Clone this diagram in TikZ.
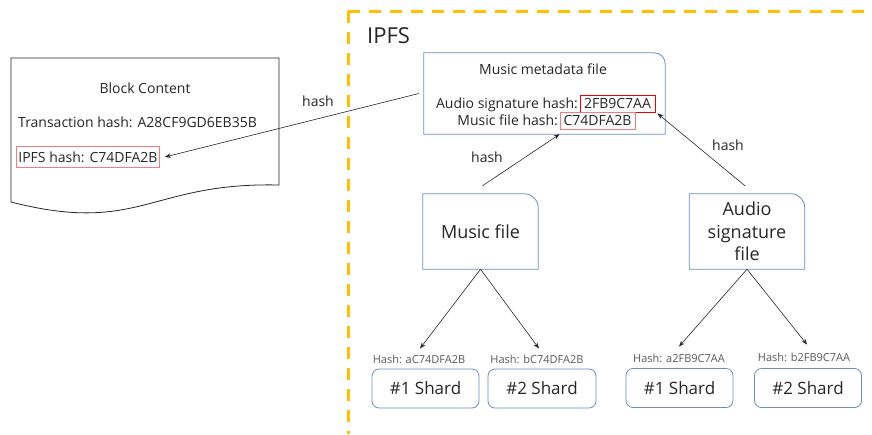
\documentclass[tikz,border=0pt]{standalone}
\usepackage{fontspec}
\setmainfont{Open Sans}
\usetikzlibrary{arrows.meta}
\definecolor{txt}{HTML}{262626}
\definecolor{boxblue}{HTML}{6D8EB8}
\definecolor{ipfsorange}{HTML}{FFC000}
\definecolor{hred}{HTML}{F00000}
\definecolor{pinkred}{HTML}{F47C7C}
\begin{document}
\begin{tikzpicture}[x=1pt,y=-1pt,
  lbl/.style={text=txt, inner sep=0pt},
  f14/.style={font=\fontsize{14}{17}\selectfont},
  big/.style={font=\fontsize{18}{22.5}\selectfont},
  arr/.style={draw=black!85, line width=0.6pt, -{Stealth[length=6pt,width=4.5pt]}},
  boxline/.style={draw=boxblue, line width=0.8pt},
  shard/.style={draw=boxblue, line width=0.8pt, rounded corners=7pt, minimum width=107pt, minimum height=39pt, font=\fontsize{17}{20}\selectfont, text=txt},
  hashlbl/.style={font=\fontsize{11}{13}\selectfont, text=black!65, inner sep=0pt},
  redbox/.style={draw=hred, line width=0.8pt, inner sep=1pt, minimum height=17pt, minimum width=75pt, text=txt},
  filebox/.style={minimum width=115pt, minimum height=75pt, inner sep=0pt},
]
\useasboundingbox (0,0) rectangle (872,434);

% IPFS frame
\draw[ipfsorange, line width=3pt, dash pattern=on 12pt off 9pt] (348,11) -- (872,11);
\draw[ipfsorange, line width=3pt, dash pattern=on 12pt off 9pt] (348,11) -- (348,434);
\node[lbl, font=\fontsize{22}{26}\selectfont, anchor=west] (ipfs) at (367,36) {IPFS};

% Block content document
\draw[black!85, line width=0.8pt] (11,58) -- (279,58) -- (279,185) .. controls (150,182) and (140,235) .. (11,202) -- cycle;
\node[lbl,f14] (bc) at (145,88) {Block Content};
\node[lbl,f14,anchor=west] (th) at (18,122) {Transaction hash: A28CF9GD6EB35B};
\node[f14, draw=pinkred, line width=0.8pt, text=txt, inner xsep=2pt, inner ysep=0pt, minimum height=21pt, anchor=west] (ih) at (16,157) {IPFS hash: C74DFA2B};

% Music metadata file
\node[minimum width=241pt, minimum height=81pt, inner sep=0pt] (meta) at (544.5,93.5) {};
\draw[boxline] (meta.south west) -- (meta.north west) -- ([xshift=-11pt]meta.north east)
  .. controls ([xshift=-5pt]meta.north east) and ([yshift=-5pt]meta.north east) .. ([yshift=-11pt]meta.north east)
  -- (meta.south east) -- cycle;
\node[lbl,f14] (mt) at (543,69) {Music metadata file};
\node[redbox,f14] (h1) at (617.5,103.5) {2FB9C7AA};
\node[lbl,f14,anchor=base east] (al) at ([xshift=-1.5pt]h1.base west) {Audio signature hash:};
\node[redbox,f14,draw=pinkred] (h2) at (597.5,120.5) {C74DFA2B};
\node[lbl,f14,anchor=base east] (ml) at ([xshift=-1.5pt]h2.base west) {Music file hash:};

% Music file box
\node[filebox] (mf) at (480.5,231.5) {};
\draw[boxline] (mf.south west) -- (mf.north west) -- ([xshift=-14pt]mf.north east)
  .. controls ([xshift=-6pt]mf.north east) and ([yshift=-6pt]mf.north east) .. ([yshift=-14pt]mf.north east)
  -- (mf.south east) -- cycle;
\node[lbl,big] at (mf.center) {Music file};

% Audio signature file box
\node[filebox] (as) at (747,231.5) {};
\draw[boxline] (as.south west) -- (as.north west) -- ([xshift=-14pt]as.north east)
  .. controls ([xshift=-6pt]as.north east) and ([yshift=-6pt]as.north east) .. ([yshift=-14pt]as.north east)
  -- (as.south east) -- cycle;
\node[lbl,big,align=center] at (as.center) {Audio\\signature\\file};

% Shards
\node[shard] (s1) at (425.5,388.5) {\#1 Shard};
\node[shard, minimum width=108pt] (s2) at (542,388.5) {\#2 Shard};
\node[shard] (s3) at (679.5,388) {\#1 Shard};
\node[shard] (s4) at (808,388) {\#2 Shard};

\node[hashlbl] (l1) at (419,359) {Hash: aC74DFA2B};
\node[hashlbl] (l2) at (537,359) {Hash: bC74DFA2B};
\node[hashlbl] (l3) at (679,358) {Hash: a2FB9C7AA};
\node[hashlbl] (l4) at (804,357) {Hash: b2FB9C7AA};

% hash labels
\node[lbl,f14] (hb) at (318,101) {hash};
\node[lbl,f14] (hm) at (487,157) {hash};
\node[lbl,f14] (ha) at (728,145) {hash};

% arrows
\draw[arr] ([xshift=-5pt]meta.west) -- ([xshift=5pt]ih.east);
\draw[arr] ([xshift=2pt,yshift=8pt]mf.north) -- (h2.south west |- meta.south);
\draw[arr] ([xshift=-2pt,yshift=8pt]as.north) -- ([xshift=2pt,yshift=-1pt]h1.south east);
\draw[arr] (mf.south) -- ([xshift=1pt,yshift=6pt]l1.north);
\draw[arr] (mf.south) -- ([xshift=2pt,yshift=6pt]l2.north);
\draw[arr] (as.south) -- ([yshift=7pt]l3.north);
\draw[arr] (as.south) -- ([xshift=3pt,yshift=8pt]l4.north);
\end{tikzpicture}
\end{document}
